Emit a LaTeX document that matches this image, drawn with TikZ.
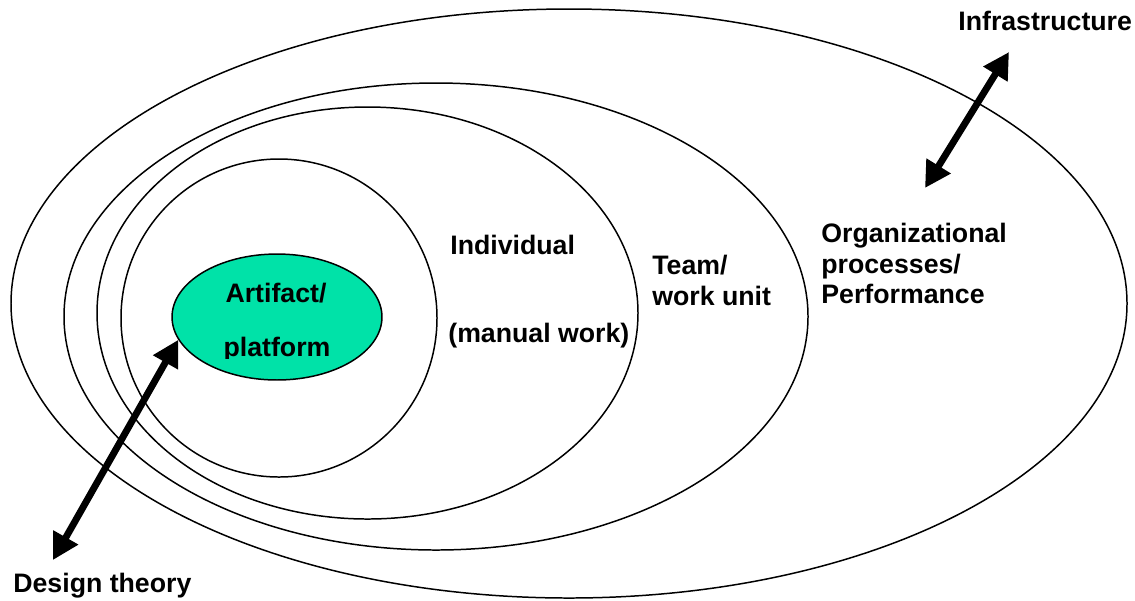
\documentclass[tikz,border=0pt]{standalone}
\usepackage{fontspec}
\setmainfont{Liberation Sans}
\usepackage{tikz}
\usetikzlibrary{shapes.geometric,arrows.meta}

\definecolor{artgreen}{RGB}{0,226,168}

\begin{document}
\begin{tikzpicture}[
  x=0.02cm, y=-0.02cm,
  ring/.style={draw=black, line width=0.85pt},
  ringtext/.style={inner sep=0pt, align=left, font=\bfseries\fontsize{15.2}{17.3}\selectfont},
  twoway/.style={{Triangle[length=0.52cm,width=0.54cm]}-{Triangle[length=0.52cm,width=0.54cm]}, line width=3.9pt},
]

\useasboundingbox (0,0) rectangle (1135,600);

\foreach \cx/\cy/\rx/\ry in {569/303.5/558/294.5, 436/316.5/372/233.5, 367.5/313/270.5/206, 279/318/158/159} {
  \draw[ring] (\cx,\cy) ellipse [x radius=\rx, y radius=\ry];
}

\node[ellipse, ring, fill=artgreen, minimum width=4.2cm, minimum height=2.52cm, inner sep=0pt] (artifact) at (277,317) {};

\node[ringtext, anchor=base] (artA) at (276,302) {Artifact/};
\begin{scope}
  \clip (150,250) rectangle (400,358);
  \node[ringtext, anchor=base] (artB) at (277,356) {platform};
\end{scope}

\node[ringtext, anchor=base west] (indiv) at (450,254) {Individual};
\node[ringtext, anchor=base west] (manual) at (448,342) {(manual work)};
\node[ringtext, anchor=north west] (team) at (652,255) {Team/\\work unit};
\node[ringtext, anchor=north west] (org) at (821,223) {Organizational\\processes/\\Performance};
\node[ringtext, anchor=base west] (infra) at (958,30) {Infrastructure};
\node[ringtext, anchor=base west] (design) at (13,592) {Design theory};

\coordinate (dtEnd) at (53,560);
\coordinate (infTop) at (1009,52);
\coordinate (infBot) at (925,188);

\draw[twoway] (dtEnd) -- (artifact.193);
\draw[twoway] (infBot) -- (infTop);
\end{tikzpicture}
\end{document}
